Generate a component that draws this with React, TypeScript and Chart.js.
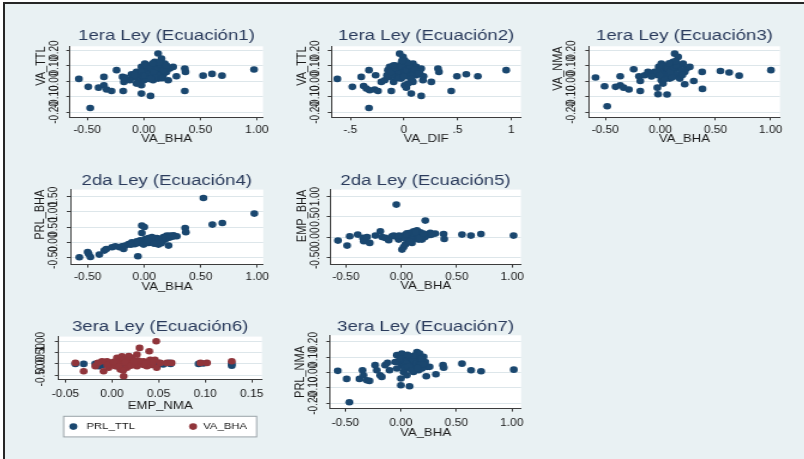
import React, { useEffect, useRef } from 'react';
import { Chart, registerables } from 'chart.js';

Chart.register(...registerables);

type Pt = [number, number];

// ---------------- data ----------------
const eq1VaBhaVaTtl: Pt[] = [
  [-0.574, 0.015], [-0.491, -0.036], [-0.474, -0.171], [-0.4, -0.041], [-0.353, 0.028], [-0.353, -0.026],
  [-0.329, -0.053], [-0.285, -0.062], [-0.241, 0.071], [-0.188, 0.028], [-0.176, -0.004], [-0.182, -0.062],
  [-0.144, 0.011], [-0.109, 0.045], [-0.065, 0.06], [-0.021, -0.026], [-0.021, -0.079], [0.059, -0.094],
  [-0.021, 0.092], [0.009, 0.113], [0.038, 0.081], [0.068, 0.103], [0.097, 0.124], [0.126, 0.178],
  [0.156, 0.145], [0.112, 0.071], [0.082, 0.038], [0.038, 0.028], [0.0, 0.006], [-0.035, 0.028],
  [0.141, 0.092], [0.185, 0.113], [0.2, 0.06], [0.229, 0.081], [0.259, 0.092], [0.215, 0.006],
  [0.288, 0.032], [0.362, 0.081], [0.368, 0.06], [0.362, -0.062], [0.524, 0.036], [0.603, 0.047],
  [0.691, 0.036], [0.974, 0.075], [0.024, 0.06], [0.068, 0.071], [0.171, 0.038], [-0.05, 0.006],
  [-0.094, 0.028], [0.126, 0.017], [-0.006, 0.049], [0.053, 0.049], [0.097, 0.092], [0.024, 0.092],
  [0.082, 0.006], [0.156, 0.06], [-0.065, -0.015], [-0.124, 0.006], [-0.168, 0.023], [0.0, 0.07],
  [0.05, 0.1], [0.1, 0.05], [0.11, 0.11], [0.03, 0.04], [0.07, 0.03], [0.13, 0.04], [0.01, 0.02],
  [-0.04, 0.05], [0.19, 0.08], [0.02, 0.1], [0.06, 0.085], [0.09, 0.06], [0.12, 0.09], [0.15, 0.1],
  [0.17, 0.07], [0.04, 0.015], [0.11, 0.025], [-0.02, 0.06], [0.0, 0.035], [0.14, 0.12], [0.08, 0.115],
  [0.06, 0.015], [-0.08, 0.04], [0.2, 0.1], [0.16, 0.02],
];

const eq2VaDifVaTtl: Pt[] = [
  [-0.621, 0.015], [-0.481, -0.036], [-0.326, -0.171], [-0.398, 0.028], [-0.376, -0.03], [-0.351, -0.047],
  [-0.326, 0.071], [-0.32, -0.058], [-0.273, -0.053], [-0.242, -0.062], [-0.264, 0.038], [-0.211, -0.004],
  [-0.18, 0.006], [-0.158, 0.038], [-0.118, -0.062], [-0.096, -0.004], [-0.071, 0.028], [-0.04, 0.177],
  [-0.009, 0.156], [0.006, 0.135], [0.022, -0.041], [0.006, -0.026], [0.068, -0.079], [0.161, -0.094],
  [0.084, 0.113], [0.115, 0.092], [0.161, 0.081], [0.177, 0.006], [0.183, 0.032], [0.255, -0.004],
  [0.317, 0.081], [0.326, 0.06], [0.441, -0.062], [0.494, 0.032], [0.581, 0.045], [0.689, 0.032],
  [0.953, 0.071], [-0.134, 0.092], [-0.087, 0.103], [-0.056, 0.081], [-0.025, 0.113], [0.037, 0.092],
  [0.068, 0.071], [0.022, 0.049], [-0.04, 0.038], [-0.102, 0.06], [-0.149, 0.071], [-0.071, 0.071],
  [-0.009, 0.06], [0.053, 0.028], [0.115, 0.038], [0.146, 0.06], [-0.025, 0.017], [-0.134, 0.028],
  [0.084, -0.004], [0.037, -0.015], [-0.06, 0.05], [0.01, 0.08], [0.09, 0.05], [-0.11, 0.04],
  [-0.12, 0.06], [-0.08, 0.085], [-0.03, 0.095], [0.02, 0.07], [0.05, 0.1], [0.1, 0.075], [0.13, 0.05],
  [-0.05, 0.02], [0.0, 0.03], [0.07, 0.015], [-0.1, 0.1], [0.03, 0.12], [-0.02, 0.13],
];

const eq3VaBhaVaNma: Pt[] = [
  [-0.588, 0.024], [-0.506, -0.032], [-0.482, -0.16], [-0.406, -0.036], [-0.364, 0.032], [-0.364, -0.026],
  [-0.333, -0.041], [-0.285, -0.053], [-0.242, 0.077], [-0.194, 0.032], [-0.182, 0.002], [-0.182, -0.062],
  [-0.142, 0.038], [-0.112, 0.06], [-0.082, 0.053], [-0.027, -0.041], [-0.021, -0.083], [0.061, -0.085],
  [-0.015, 0.092], [0.009, 0.113], [0.039, 0.081], [0.085, 0.103], [0.115, 0.124], [0.13, 0.177],
  [0.161, 0.156], [0.145, 0.081], [0.1, 0.038], [0.055, 0.024], [0.009, 0.006], [0.176, 0.103],
  [0.206, 0.113], [0.221, 0.06], [0.236, 0.081], [0.267, 0.092], [0.221, -0.019], [0.303, 0.002],
  [0.379, 0.06], [0.382, -0.049], [0.545, 0.066], [0.624, 0.056], [0.715, 0.036], [1.003, 0.071],
  [0.024, 0.06], [0.07, 0.071], [0.115, 0.06], [0.161, 0.038], [-0.021, 0.038], [0.085, 0.017],
  [-0.052, 0.06], [0.055, 0.092], [0.176, 0.017], [0.024, -0.015], [0.04, 0.04], [0.1, 0.09],
  [-0.01, 0.07], [0.13, 0.05], [0.02, 0.1], [0.06, 0.085], [0.09, 0.06], [0.12, 0.09], [0.15, 0.1],
  [0.19, 0.07], [0.04, 0.015], [0.11, 0.025], [-0.03, 0.06], [0.0, 0.04], [0.14, 0.13], [0.08, 0.115],
  [-0.08, 0.03], [0.2, 0.04],
];

const eq4VaBhaPrlBha: Pt[] = [
  [-0.574, -0.492], [-0.5, -0.317], [-0.491, -0.383], [-0.476, -0.481], [-0.397, -0.404], [-0.353, -0.273],
  [-0.335, -0.219], [-0.285, -0.164], [-0.256, -0.131], [-0.218, -0.164], [-0.197, -0.131], [-0.182, -0.219],
  [-0.168, -0.109], [-0.138, -0.055], [-0.109, 0.0], [-0.094, -0.055], [-0.05, -0.022], [-0.021, 0.546],
  [0.0, 0.503], [-0.021, 0.306], [-0.056, -0.459], [-0.012, 0.0], [0.024, 0.033], [0.053, 0.087],
  [0.082, 0.066], [0.112, 0.142], [0.141, 0.109], [0.171, 0.175], [0.2, 0.219], [0.229, 0.219],
  [0.259, 0.23], [0.288, 0.197], [0.215, -0.109], [0.126, -0.077], [0.082, -0.022], [0.362, 0.47],
  [0.368, 0.328], [0.524, 1.454], [0.603, 0.579], [0.691, 0.634], [0.974, 0.94], [-0.035, 0.066],
  [0.009, 0.109], [0.038, -0.022], [0.068, 0.175], [0.097, 0.033], [0.141, 0.033], [0.185, 0.087],
  [0.038, 0.142], [-0.006, -0.077], [-0.065, 0.033], [0.06, 0.02], [0.11, 0.08], [0.16, 0.06],
  [0.02, 0.0], [0.05, 0.04], [0.08, 0.02], [0.1, 0.09], [0.13, 0.07], [0.16, 0.12], [0.19, 0.14],
  [0.06, 0.11], [0.03, 0.07], [0.12, 0.0], [0.15, -0.03], [0.09, -0.05], [0.22, 0.15], [0.25, 0.18],
  [-0.08, -0.06], [-0.12, -0.08],
];

const eq5VaBhaEmpBha: Pt[] = [
  [-0.571, -0.082], [-0.489, -0.205], [-0.465, 0.025], [-0.393, 0.066], [-0.345, -0.016], [-0.339, -0.098],
  [-0.309, 0.008], [-0.285, -0.139], [-0.234, 0.041], [-0.189, 0.148], [-0.174, 0.008], [-0.144, -0.016],
  [-0.114, -0.074], [-0.084, 0.025], [-0.045, 0.803], [-0.024, -0.057], [0.006, -0.303], [0.021, -0.238],
  [0.036, -0.18], [0.051, 0.066], [0.081, 0.107], [0.111, 0.148], [0.141, 0.172], [0.171, 0.123],
  [0.216, 0.41], [0.231, 0.066], [0.261, 0.107], [0.306, 0.09], [0.381, 0.082], [0.387, -0.041],
  [0.547, 0.066], [0.628, 0.041], [0.718, 0.082], [1.012, 0.041], [0.021, 0.008], [0.051, -0.057],
  [0.081, 0.025], [0.111, -0.016], [0.141, 0.041], [0.171, 0.008], [0.201, 0.041], [0.066, -0.098],
  [0.096, -0.139], [0.156, -0.057], [-0.009, -0.016], [-0.039, 0.008], [-0.069, 0.041], [0.186, -0.057],
  [0.03, 0.05], [0.12, 0.06], [0.0, 0.02], [0.03, -0.02], [0.06, 0.03], [0.09, 0.06], [0.12, 0.02],
  [0.15, 0.08], [0.18, 0.03], [0.21, 0.0], [0.05, 0.1], [0.1, -0.06], [0.13, 0.12], [0.08, -0.1],
  [0.16, -0.02], [0.24, 0.05], [0.27, 0.06], [-0.02, 0.04], [0.04, 0.06], [0.2, 0.09],
];

const eq6EmpNmaPrlTtl: Pt[] = [
  [-0.0393, 0.0], [-0.0304, 0.0], [-0.0107, -0.045], [-0.0143, -0.1], [0.048, -0.1], [0.05, 0.045],
  [0.0615, 0.045], [0.063, 0.0], [0.093, 0.0], [0.1286, 0.0], [0.1286, -0.08], [0.0125, 0.0],
  [0.0304, 0.0], [0.0375, 0.045], [-0.0018, 0.045], [0.0054, -0.1], [0.0196, -0.05], [0.0446, -0.05],
  [0.01, 0.02], [0.025, -0.02], [0.04, 0.03], [0.0, 0.0], [-0.018, 0.0], [0.055, -0.03], [0.098, 0.02],
];

const eq6EmpNmaVaBha: Pt[] = [
  [-0.0393, 0.045], [-0.0304, -0.33], [-0.0179, -0.1], [-0.009, -0.33], [-0.0054, 0.12], [0.0, -0.05],
  [0.0054, 0.27], [0.0107, 0.34], [0.0125, -0.56], [0.016, -0.17], [0.0196, 0.19], [0.023, 0.045],
  [0.0268, 0.42], [0.0296, 0.72], [0.0304, 0.045], [0.034, 0.12], [0.0375, -0.1], [0.04, 0.57],
  [0.041, 0.19], [0.0475, 1.02], [0.048, -0.17], [0.0518, 0.045], [0.059, 0.045], [0.064, 0.045],
  [0.095, 0.045], [0.102, 0.045], [0.1286, 0.12], [0.0036, -0.1], [0.009, -0.25], [0.018, 0.045],
  [0.009, 0.045], [0.0214, 0.27], [0.0268, -0.1], [0.034, -0.05], [-0.0036, -0.17], [-0.0107, 0.12],
  [0.0125, 0.19], [0.046, 0.19], [0.006, 0.0], [0.015, 0.08], [0.025, -0.02], [0.032, 0.1],
  [-0.015, 0.05], [-0.005, -0.05], [0.002, 0.1], [0.008, -0.12], [0.014, 0.05], [0.02, -0.08],
  [0.028, 0.15], [0.036, 0.02], [0.042, -0.05], [0.044, 0.08], [0.018, 0.35], [0.024, 0.12], [0.012, -0.3],
];

const eq7VaBhaPrlNma: Pt[] = [
  [-0.569, 0.011], [-0.488, -0.041], [-0.464, -0.193], [-0.373, -0.041], [-0.346, 0.015], [-0.337, -0.017],
  [-0.307, -0.05], [-0.283, -0.054], [-0.232, 0.048], [-0.217, 0.015], [-0.187, -0.017], [-0.172, -0.028],
  [-0.142, 0.048], [-0.12, 0.063], [-0.102, 0.015], [-0.036, 0.113], [0.009, 0.123], [0.0, -0.039],
  [0.0, -0.082], [0.078, -0.089], [0.039, 0.091], [0.069, 0.08], [0.114, 0.069], [0.145, 0.134],
  [0.169, 0.123], [0.099, 0.037], [0.054, 0.026], [0.024, 0.004], [0.009, 0.048], [0.19, 0.08],
  [0.22, 0.069], [0.235, 0.037], [0.259, 0.037], [0.229, -0.024], [0.316, -0.011], [0.38, 0.048],
  [0.386, 0.032], [0.551, 0.058], [0.633, 0.015], [0.723, 0.009], [1.018, 0.019], [-0.021, 0.069],
  [0.084, 0.048], [0.13, 0.048], [0.16, 0.015], [0.024, 0.048], [0.054, -0.017], [0.114, 0.004],
  [0.19, 0.026], [-0.036, 0.026], [-0.051, 0.069], [0.145, 0.091], [0.205, 0.102], [0.02, 0.08],
  [0.05, 0.06], [0.08, 0.1], [0.11, 0.085], [0.14, 0.06], [0.17, 0.05], [0.2, 0.055], [0.03, 0.03],
  [0.07, 0.04], [0.1, 0.015], [0.12, 0.11], [-0.01, 0.09], [0.06, 0.115], [0.18, 0.09], [0.15, 0.03],
];

// tick values
const ticksVaBha = [-0.5, 0, 0.5, 1];
const ticksVaDif = [-0.5, 0, 0.5, 1];
const ticksEmpNma = [-0.05, 0, 0.05, 0.1, 0.15];
const ticksSmall = [-0.2, -0.1, 0, 0.1, 0.2];
const ticksPrlBha = [-0.5, 0, 0.5, 1, 1.5];
const ticksEmpBha = [-0.5, 0, 0.5, 1];
const ticksEq6Y = [-0.5, 0, 0.5, 1];

// ---------------- style ----------------
const SX = 1.2; // horizontal stretch of the original picture
const FONT = '"Liberation Sans", Arial, Helvetica, sans-serif';
const NAVY = '#1a476f';
const MAROON = '#90353b';
const TITLE_COLOR = '#2a3b5c';
const TEXT = '#1a1a1a';
const AXIS = '#3c3c3c';
const GRID = '#dde6ea';
const BG = '#e9f1f3';

const TL = 3;
const TITLE_SIZE = 15.5;
const TITLE_LH = TITLE_SIZE * 1.2;
const AX_SIZE = 11;
const AX_LH = AX_SIZE * 1.2;
const TICK_SIZE = 10;
const TICK_LH = TICK_SIZE * 1.2;
const HALF_WIDEST = (2.279 * TICK_SIZE) / 2;
const MARKER_R = 3.3;
const LEGEND_SIZE = 9.5;

const fmt2 = (v: number) => v.toFixed(2);
const fmtShort = (v: number) => {
  if (Math.abs(v) < 1e-9) return '0';
  const s = String(Math.abs(v)).replace(/^0\./, '.');
  return (v < 0 ? '-' : '') + s;
};

interface Series { label: string; color: string; points: Pt[]; order: number }
interface LegendSpec { left: number; right: number; top: number; bottom: number; dotX: number[]; textX: number[] }
interface PanelSpec {
  title: string; xTitle: string; yTitle: string;
  series: Series[];
  xTicks: number[]; yTicks: number[];
  xFmt: (v: number) => string; yFmt: (v: number) => string;
  xMin: number; xMax: number; yMin: number; yMax: number;
  L: number; R: number; T: number; B: number;
  titleY: number; yTitleX: number; yTitleAlign: 'start' | 'center' | 'end';
  yLabelX: number; xLabelY: number; xTitleY: number;
  legend?: LegendSpec;
}

const PANELS: PanelSpec[] = [
  {
    title: '1era Ley (Ecuación1)', xTitle: 'VA_BHA', yTitle: 'VA_TTL',
    series: [{ label: 'VA_TTL', color: NAVY, points: eq1VaBhaVaTtl, order: 0 }],
    xTicks: ticksVaBha, yTicks: ticksSmall, xFmt: fmt2, yFmt: fmt2,
    xMin: -0.653, xMax: 1.053, yMin: -0.231, yMax: 0.224,
    L: 70, R: 263, T: 46, B: 117, titleY: 35, yTitleX: 41, yTitleAlign: 'end',
    yLabelX: 55.5, xLabelY: 130, xTitleY: 138.3,
  },
  {
    title: '1era Ley (Ecuación2)', xTitle: 'VA_DIF', yTitle: 'VA_TTL',
    series: [{ label: 'VA_TTL', color: NAVY, points: eq2VaDifVaTtl, order: 0 }],
    xTicks: ticksVaDif, yTicks: ticksSmall, xFmt: fmtShort, yFmt: fmt2,
    xMin: -0.677, xMax: 1.09, yMin: -0.231, yMax: 0.224,
    L: 331, R: 521, T: 46, B: 117, titleY: 35, yTitleX: 301.5, yTitleAlign: 'end',
    yLabelX: 315.5, xLabelY: 130, xTitleY: 138.3,
  },
  {
    title: '1era Ley (Ecuación3)', xTitle: 'VA_BHA', yTitle: 'VA_NMA',
    series: [{ label: 'VA_NMA', color: NAVY, points: eq3VaBhaVaNma, order: 0 }],
    xTicks: ticksVaBha, yTicks: ticksSmall, xFmt: fmt2, yFmt: fmt2,
    xMin: -0.648, xMax: 1.085, yMin: -0.231, yMax: 0.224,
    L: 589, R: 780, T: 46, B: 117, titleY: 35, yTitleX: 558, yTitleAlign: 'end',
    yLabelX: 572, xLabelY: 130, xTitleY: 138.3,
  },
  {
    title: '2da Ley (Ecuación4)', xTitle: 'VA_BHA', yTitle: 'PRL_BHA',
    series: [{ label: 'PRL_BHA', color: NAVY, points: eq4VaBhaPrlBha, order: 0 }],
    xTicks: ticksVaBha, yTicks: ticksPrlBha, xFmt: fmt2, yFmt: fmt2,
    xMin: -0.653, xMax: 1.053, yMin: -0.732, yMax: 1.727,
    L: 70, R: 263, T: 190, B: 265, titleY: 180.7, yTitleX: 39.5, yTitleAlign: 'end',
    yLabelX: 54, xLabelY: 277.7, xTitleY: 287.3,
  },
  {
    title: '2da Ley (Ecuación5)', xTitle: 'VA_BHA', yTitle: 'EMP_BHA',
    series: [{ label: 'EMP_BHA', color: NAVY, points: eq5VaBhaEmpBha, order: 0 }],
    xTicks: ticksVaBha, yTicks: ticksEmpBha, xFmt: fmt2, yFmt: fmt2,
    xMin: -0.64, xMax: 1.078, yMin: -0.672, yMax: 1.172,
    L: 330, R: 521, T: 190, B: 265, titleY: 180.7, yTitleX: 301.5, yTitleAlign: 'end',
    yLabelX: 315, xLabelY: 277.7, xTitleY: 286.7,
  },
  {
    title: '3era Ley (Ecuación6)', xTitle: 'EMP_NMA', yTitle: '',
    series: [
      { label: 'PRL_TTL', color: NAVY, points: eq6EmpNmaPrlTtl, order: 1 },
      { label: 'VA_BHA', color: MAROON, points: eq6EmpNmaVaBha, order: 0 },
    ],
    xTicks: ticksEmpNma, yTicks: ticksEq6Y, xFmt: fmt2, yFmt: fmt2,
    xMin: -0.0575, xMax: 0.161, yMin: -0.707, yMax: 1.23,
    L: 58, R: 262, T: 337, B: 380, titleY: 326.7, yTitleX: 0, yTitleAlign: 'center',
    yLabelX: 40.5, xLabelY: 394.5, xTitleY: 406.5,
    legend: { left: 63.3, right: 256.7, top: 416.7, bottom: 437.3, dotX: [73, 193], textX: [86, 203] },
  },
  {
    title: '3era Ley (Ecuación7)', xTitle: 'VA_BHA', yTitle: 'PRL_NMA',
    series: [{ label: 'PRL_NMA', color: NAVY, points: eq7VaBhaPrlNma, order: 0 }],
    xTicks: ticksVaBha, yTicks: ticksSmall, xFmt: fmt2, yFmt: fmt2,
    xMin: -0.639, xMax: 1.084, yMin: -0.234, yMax: 0.242,
    L: 330, R: 521, T: 335, B: 408.3, titleY: 326, yTitleX: 300, yTitleAlign: 'center',
    yLabelX: 314, xLabelY: 423.3, xTitleY: 432.3,
  },
];

function geometry(s: PanelSpec) {
  const left = s.yTitle ? s.yTitleX - (SX * AX_LH) / 2 : s.yLabelX - 12;
  const top = s.titleY - TITLE_LH / 2 - 2;
  const right = s.R + 16;
  const bottom = s.legend ? s.legend.bottom + 3 : s.xTitleY + AX_LH / 2 + 2;
  const cw = Math.round((right - left) / SX);
  const ch = Math.round(bottom - top);
  const yAxisW = (s.L - left) / SX;
  const padRight = cw - (s.R - left) / SX;
  const xAxisH = s.xTitleY + AX_LH / 2 - s.B;
  const padBottom = ch - (s.B - top) - xAxisH;
  const titlePadBottom = s.T - top - 2 - TITLE_LH;
  const yTickPad = (s.L - s.yLabelX) / SX - TL - HALF_WIDEST;
  const xTickPad = s.xLabelY - s.B - TL - TICK_LH / 2;
  return { left, top, cw, ch, yAxisW, padRight, xAxisH, padBottom, titlePadBottom, yTickPad, xTickPad };
}

const plotBg = {
  id: 'plotBg',
  beforeDraw(chart: any) {
    const { ctx, chartArea: a } = chart;
    ctx.save();
    ctx.fillStyle = '#ffffff';
    ctx.fillRect(a.left, a.top, a.right - a.left, a.bottom - a.top);
    ctx.restore();
  },
};

function makeLegendPlugin(s: PanelSpec, g: ReturnType<typeof geometry>) {
  return {
    id: 'stataLegend',
    afterDraw(chart: any) {
      const lg = s.legend;
      if (!lg) return;
      const { ctx } = chart;
      const cx = (px: number) => (px - g.left) / SX;
      const cy = (py: number) => py - g.top;
      ctx.save();
      ctx.fillStyle = '#ffffff';
      ctx.fillRect(cx(lg.left), cy(lg.top), cx(lg.right) - cx(lg.left), cy(lg.bottom) - cy(lg.top));
      ctx.strokeStyle = '#9aa3a8';
      ctx.lineWidth = 1;
      ctx.strokeRect(cx(lg.left), cy(lg.top), cx(lg.right) - cx(lg.left), cy(lg.bottom) - cy(lg.top));
      const midY = (cy(lg.top) + cy(lg.bottom)) / 2;
      chart.data.datasets.forEach((ds: any, i: number) => {
        ctx.fillStyle = ds.backgroundColor;
        ctx.beginPath();
        ctx.arc(cx(lg.dotX[i]), midY, MARKER_R, 0, Math.PI * 2);
        ctx.fill();
        ctx.fillStyle = TEXT;
        ctx.font = `${LEGEND_SIZE}px ${FONT}`;
        ctx.textAlign = 'left';
        ctx.textBaseline = 'middle';
        ctx.fillText(ds.label, cx(lg.textX[i]), midY);
      });
      ctx.restore();
    },
  };
}

function Panel({ spec }: { spec: PanelSpec }) {
  const ref = useRef<HTMLCanvasElement>(null);
  const g = geometry(spec);
  useEffect(() => {
    if (!ref.current) return;
    const s = spec;
    const chart = new Chart(ref.current, {
      type: 'scatter',
      data: {
        datasets: s.series.map((se) => ({
          label: se.label,
          data: se.points.map(([x, y]) => ({ x, y })),
          backgroundColor: se.color,
          borderColor: se.color,
          pointRadius: MARKER_R,
          pointHoverRadius: MARKER_R,
          pointBorderWidth: 0,
          order: se.order,
        })),
      },
      options: {
        responsive: false,
        maintainAspectRatio: false,
        animation: false,
        devicePixelRatio: 1,
        events: [],
        layout: { padding: { top: 2, left: 0, right: g.padRight, bottom: g.padBottom } },
        plugins: {
          legend: { display: false },
          tooltip: { enabled: false },
          title: {
            display: true,
            text: s.title,
            color: TITLE_COLOR,
            fullSize: false,
            align: 'center',
            font: { family: FONT, size: TITLE_SIZE, weight: 'normal', lineHeight: 1.2 },
            padding: { top: 0, bottom: g.titlePadBottom },
          },
        },
        scales: {
          x: {
            type: 'linear',
            position: 'bottom',
            min: s.xMin,
            max: s.xMax,
            afterBuildTicks: (sc: any) => { sc.ticks = s.xTicks.map((v) => ({ value: v })); },
            afterFit: (sc: any) => { sc.height = g.xAxisH; },
            ticks: {
              autoSkip: false, maxRotation: 0, minRotation: 0,
              padding: g.xTickPad, color: TEXT,
              font: { family: FONT, size: TICK_SIZE, lineHeight: 1.2 },
              callback: (v: any) => s.xFmt(Number(v)),
            },
            grid: { drawOnChartArea: false, drawTicks: true, tickLength: TL, tickColor: AXIS, tickWidth: 1 },
            border: { display: true, color: AXIS, width: 1 },
            title: {
              display: true, text: s.xTitle, color: TEXT, padding: 0,
              font: { family: FONT, size: AX_SIZE, lineHeight: 1.2 },
            },
          },
          y: {
            type: 'linear',
            position: 'left',
            min: s.yMin,
            max: s.yMax,
            afterBuildTicks: (sc: any) => { sc.ticks = s.yTicks.map((v) => ({ value: v })); },
            afterFit: (sc: any) => { sc.width = g.yAxisW; },
            ticks: {
              autoSkip: false, minRotation: 90, maxRotation: 90, crossAlign: 'center',
              padding: g.yTickPad, color: TEXT,
              font: { family: FONT, size: TICK_SIZE, lineHeight: 1.2 },
              callback: (v: any) => s.yFmt(Number(v)),
            },
            grid: { color: GRID, lineWidth: 1, drawTicks: true, tickLength: TL, tickColor: AXIS, tickWidth: 1 },
            border: { display: true, color: AXIS, width: 1 },
            title: {
              display: !!s.yTitle, text: s.yTitle, color: TEXT, padding: 0, align: s.yTitleAlign,
              font: { family: FONT, size: AX_SIZE, lineHeight: 1.2 },
            },
          },
        },
      } as any,
      plugins: s.legend ? [plotBg, makeLegendPlugin(s, g)] : [plotBg],
    });
    return () => chart.destroy();
  }, []);
  return (
    <canvas
      ref={ref}
      width={g.cw}
      height={g.ch}
      style={{ position: 'absolute', left: g.left, top: g.top, width: g.cw * SX, height: g.ch }}
    />
  );
}

export default function App() {
  return (
    <div style={{ position: 'absolute', left: 0, top: 0, width: 804, height: 459, background: '#ffffff', overflow: 'hidden' }}>
      <div
        style={{
          position: 'absolute', left: 3, top: 2, right: 0, bottom: 0, background: BG,
          borderTop: '2px solid #262626', borderLeft: '2px solid #262626',
        }}
      />
      {PANELS.map((p, i) => (
        <Panel key={i} spec={p} />
      ))}
    </div>
  );
}
